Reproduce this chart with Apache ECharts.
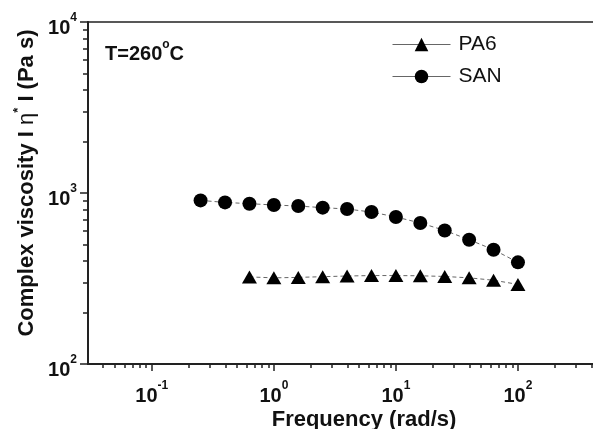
<!DOCTYPE html>
<html>
<head>
<meta charset="UTF-8">
<title>Complex viscosity</title>
<script src="https://cdn.jsdelivr.net/npm/echarts@6.0.0/dist/echarts.min.js"></script>
</head>
<body style="margin:0">
<div id="main" style="width:593px;height:429px"></div>
<script>
// data
var freqPA6 = [0.631, 1, 1.585, 2.512, 3.981, 6.31, 10, 15.85, 25.12, 39.81, 63.1, 100];
var etaPA6 = [323, 319, 321, 324, 327, 329, 329, 328, 325, 319, 309, 292];
var freqSAN = [0.251, 0.398, 0.631, 1, 1.585, 2.512, 3.981, 6.31, 10, 15.85, 25.12, 39.81, 63.1, 100];
var etaSAN = [905, 881, 866, 851, 839, 821, 806, 774, 724, 668, 604, 533, 466, 393];
var xMajor = [0.1, 1, 10, 100];
var xMinor = [0.04, 0.05, 0.06, 0.07, 0.08, 0.09, 0.2, 0.3, 0.4, 0.5, 0.6, 0.7, 0.8, 0.9,
    2, 3, 4, 5, 6, 7, 8, 9, 20, 30, 40, 50, 60, 70, 80, 90, 200, 300, 400, 500, 600, 700, 800, 900];
var yMajor = [100, 1000, 10000];
var yMinor = [200, 300, 400, 500, 600, 700, 800, 900, 2000, 3000, 4000, 5000, 6000, 7000, 8000, 9000];

var F = '"Liberation Sans", Arial, sans-serif';
var C = '#111';

function pairs(xs, ys) {
    return xs.map(function (x, i) { return [x, ys[i]]; });
}
function powLabel(v) {
    var e = Math.round(Math.log10(v));
    return '{b|10}{s|' + e + '}';
}
// superscript: a short top-aligned token next to a tall base token
var powRich = {
    b: { fontSize: 20, fontWeight: 'bold', fontFamily: F, color: C, lineHeight: 32 },
    s: { fontSize: 12, fontWeight: 'bold', fontFamily: F, color: C, lineHeight: 12, verticalAlign: 'top', padding: [0, 0, 8, 0] }
};

var chart = echarts.init(document.getElementById('main'));
var option = {
    animation: false,
    backgroundColor: '#fff',
    grid: {
        left: 88, top: 22, width: 552, bottom: 65,
        outerBoundsMode: 'none', containLabel: false,
        show: true, borderColor: '#222', borderWidth: 1.5
    },
    title: {
        text: 'T=260{o|o}C',
        left: 105, top: 39, padding: 0,
        textStyle: {
            fontSize: 20, fontWeight: 'bold', fontFamily: F, color: C, lineHeight: 30,
            rich: { o: { fontSize: 12, fontWeight: 'bold', fontFamily: F, color: C, verticalAlign: 'top', lineHeight: 12, padding: [0, 0, 8, 0] } }
        }
    },
    legend: {
        orient: 'vertical', left: 387, top: 29,
        itemWidth: 58, itemHeight: 17, itemGap: 11,
        lineStyle: { type: 'solid', color: '#666', width: 1 },
        textStyle: { fontSize: 21, fontFamily: F, color: C, padding: [0, 0, 0, 3] },
        data: ['PA6', 'SAN']
    },
    xAxis: [{
        type: 'log', min: 0.03, max: 1000,
        name: 'Frequency (rad/s)', nameLocation: 'middle', nameGap: 45, nameMoveOverlap: false,
        nameTextStyle: { fontSize: 22, fontWeight: 'bold', fontFamily: F, color: C },
        axisLine: { lineStyle: { color: '#222', width: 2 } },
        axisTick: { customValues: xMajor, length: 7, lineStyle: { color: '#222', width: 1.5 } },
        axisLabel: { customValues: xMajor, formatter: powLabel, rich: powRich, margin: 16 },
        splitLine: { show: false }, minorTick: { show: false }
    }, {
        type: 'log', min: 0.03, max: 1000, position: 'bottom',
        axisLine: { show: false },
        axisTick: { customValues: xMinor, length: 4, lineStyle: { color: '#222', width: 1.5 } },
        axisLabel: { show: false },
        splitLine: { show: false }
    }],
    yAxis: [{
        type: 'log', min: 100, max: 10000,
        name: 'Complex viscosity I {e|η}{s|*} I (Pa s)', nameLocation: 'middle', nameGap: 46,
        nameRotate: 90, nameMoveOverlap: false,
        nameTextStyle: {
            fontSize: 22, fontWeight: 'bold', fontFamily: F, color: C, padding: [0, 0, 0, 20], lineHeight: 30,
            rich: {
                e: { fontSize: 22, fontWeight: 'normal', fontFamily: F, color: C, lineHeight: 30 },
                s: { fontSize: 13, fontWeight: 'bold', fontFamily: F, color: C, verticalAlign: 'top', lineHeight: 12, padding: [0, 0, 6, 0] }
            }
        },
        axisLine: { lineStyle: { color: '#222', width: 2 } },
        axisTick: { customValues: yMajor, length: 8, lineStyle: { color: '#222', width: 1.5 } },
        axisLabel: { customValues: yMajor, formatter: powLabel, rich: powRich, margin: 11, padding: [12, 0, 0, 0] },
        splitLine: { show: false }, minorTick: { show: false }
    }, {
        type: 'log', min: 100, max: 10000, position: 'left',
        axisLine: { show: false },
        axisTick: { customValues: yMinor, length: 5, lineStyle: { color: '#222', width: 1.5 } },
        axisLabel: { show: false },
        splitLine: { show: false }
    }],
    series: [{
        name: 'PA6', type: 'line', xAxisIndex: 0, yAxisIndex: 0,
        data: pairs(freqPA6, etaPA6),
        symbol: 'triangle', symbolSize: [15, 13],
        itemStyle: { color: '#000' },
        lineStyle: { color: '#666', width: 1, type: [4, 3] }
    }, {
        name: 'SAN', type: 'line', xAxisIndex: 0, yAxisIndex: 0,
        data: pairs(freqSAN, etaSAN),
        symbol: 'circle', symbolSize: 14,
        itemStyle: { color: '#000' },
        lineStyle: { color: '#666', width: 1, type: [4, 3] }
    }]
};
chart.setOption(option);
</script>
</body>
</html>
